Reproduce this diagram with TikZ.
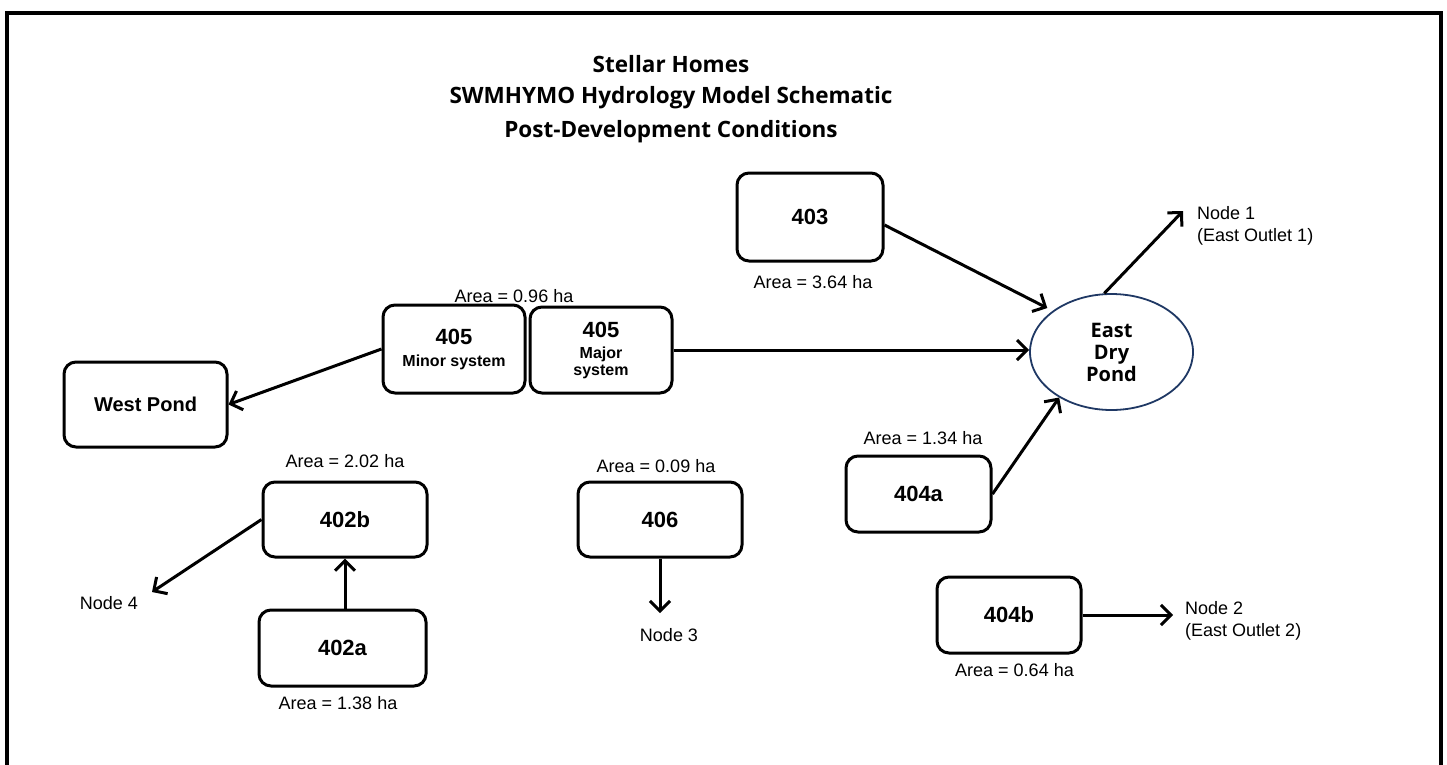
\documentclass[tikz,border=0pt]{standalone}
\usepackage{fontspec}
\setmainfont{Liberation Sans}
\newfontfamily\titlefont{Open Sans}
\usetikzlibrary{arrows.meta,shapes.geometric,calc}
\definecolor{pondblue}{RGB}{31,56,100}
\newcommand\smallbold{\fontsize{16}{17}\selectfont\bfseries}
\begin{document}
\begin{tikzpicture}[x=1pt,y=-1pt,
  box/.style={draw, line width=3pt, rounded corners=12pt, align=center, inner sep=0pt,
              font=\fontsize{22}{24}\selectfont\bfseries},
  arr/.style={line width=3pt, -{Straight Barb[length=10pt,width=20pt]}},
  area/.style={font=\fontsize{18}{22}\selectfont, inner sep=0pt},
  title/.style={font=\titlefont\bfseries\fontsize{22.5}{26}\selectfont, anchor=base, inner sep=0pt},
  pondnode/.style={ellipse, draw=pondblue, line width=1.8pt, inner sep=0pt, align=center,
              font=\titlefont\bfseries\fontsize{20}{22}\selectfont}]
\useasboundingbox (0,0) rectangle (1447,764);
\clip (0,0) rectangle (1447,764);
\draw[line width=4pt] (7,13) rectangle (1441,800);

% title
\node[title] (t1) at (671,72) {Stellar Homes};
\node[title] (t2) at (671,103) {SWMHYMO Hydrology Model Schematic};
\node[title] (t3) at (671,137) {Post-Development Conditions};

% boxes
\node[box, minimum width=146pt, minimum height=88pt] (n403) at (810,217) {403};
\node[area] (a403) at (813,282) {Area = 3.64 ha};

\node[box, minimum width=142pt, minimum height=88pt] (n405min) at (454,349)
  {405\\[-2pt]\smallbold Minor system};
\node[box, minimum width=142pt, minimum height=86pt] (n405maj) at (601,350)
  {405\\[-3pt]\smallbold Major\\[-7pt]\smallbold system};
\node[area] (a405) at (514,296) {Area = 0.96 ha};

\node[box, minimum width=163pt, minimum height=85pt, font=\fontsize{20}{22}\selectfont\bfseries]
  (nwest) at (145.5,404.5) {West Pond};

\node[pondnode, minimum width=163pt, minimum height=116pt] (pond) at (1111.5,352) {East\\Dry\\Pond};

\node[box, minimum width=145pt, minimum height=76pt] (n404a) at (918.5,494) {404a};
\node[area] (a404a) at (923,438) {Area = 1.34 ha};

\node[box, minimum width=144pt, minimum height=76pt] (n404b) at (1009,615) {404b};
\node[area] (a404b) at (1014.5,670) {Area = 0.64 ha};

\node[box, minimum width=164pt, minimum height=75pt] (n402b) at (345,519.5) {402b};
\node[area] (a402b) at (345,461) {Area = 2.02 ha};

\node[box, minimum width=167pt, minimum height=76pt] (n402a) at (342.5,648) {402a};
\node[area] (a402a) at (338,703) {Area = 1.38 ha};

\node[box, minimum width=164pt, minimum height=75pt] (n406) at (660,519.5) {406};
\node[area] (a406) at (656,466) {Area = 0.09 ha};

% outlet labels
\node[area, align=left, anchor=north west] (node1) at (1197,206) {Node 1\\(East Outlet 1)};
\node[area, align=left, anchor=north west] (node2) at (1185,601) {Node 2\\(East Outlet 2)};
\node[area] (node3) at (669,635) {Node 3};
\node[area] (node4) at (109,603) {Node 4};

\coordinate (tip1) at (1183,211);
\coordinate (tip2) at (1173,615);
\coordinate (tip3) at (660,613);
\coordinate (tip4) at (152,592);

% connectors
\draw[arr, shorten >=6pt] ($(n403.east)+(0,8)$) -- (pond.145);
\draw[arr] (n405maj.east) -- (n405maj.east -| pond.west);
\draw[arr] (n404a.east) -- (pond.221);
\draw[arr] (pond.97) -- (tip1);
\draw[arr] (n404b.east) -- (tip2);
\draw[arr] (n405min.west) -- (nwest.east);
\draw[arr] (n402b.west) -- (tip4);
\draw[arr] (n402b.south |- n402a.north) -- (n402b.south);
\draw[arr] (n406.south) -- (tip3);
\end{tikzpicture}
\end{document}
